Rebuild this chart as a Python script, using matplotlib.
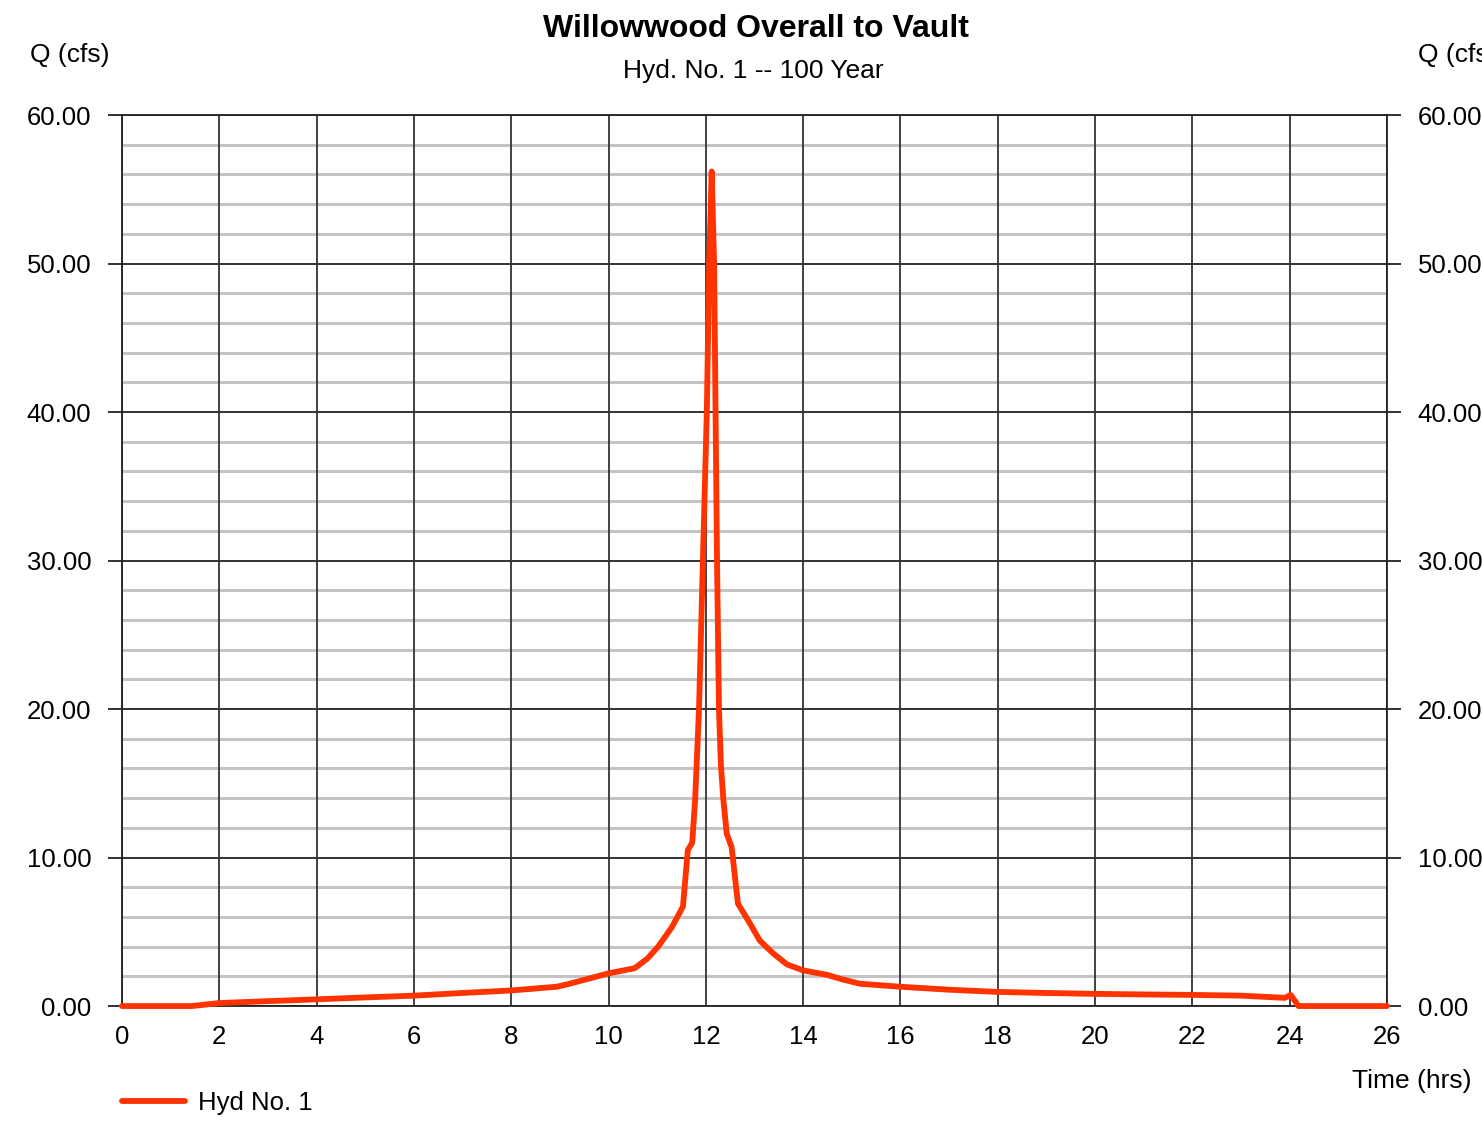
import matplotlib
matplotlib.use("Agg")
import matplotlib.pyplot as plt
import numpy as np

plt.rcParams['font.family'] = ['Liberation Sans', 'DejaVu Sans']

# Hydrograph
time_hrs = [0.0, 1.44, 2.0, 3.0, 4.0, 5.0, 6.0, 7.0, 8.0, 8.94, 9.2, 9.6, 10.0,
            10.54, 10.8, 11.02, 11.3, 11.53, 11.63, 11.72, 11.78, 11.86, 11.94,
            12.02, 12.07, 12.12, 12.17, 12.2, 12.23, 12.27, 12.31, 12.36,
            12.43, 12.53, 12.66, 12.9, 13.11, 13.4, 13.67, 14.0, 14.49, 14.8,
            15.17, 16.0, 17.0, 18.0, 19.0, 20.0, 21.0, 22.0, 23.0, 23.9,
            24.02, 24.18, 26.0]
flow_cfs = [0.0, 0.0, 0.2, 0.33, 0.45, 0.58, 0.7, 0.88, 1.05, 1.3, 1.5, 1.85, 2.2,
            2.55, 3.2, 4.0, 5.3, 6.7, 10.5, 11.0, 13.9, 20.0, 30.0,
            40.0, 50.0, 56.2, 50.0, 40.0, 30.0, 20.0, 16.2, 13.9,
            11.6, 10.7, 6.9, 5.6, 4.4, 3.5, 2.8, 2.4, 2.1, 1.8,
            1.5, 1.3, 1.1, 0.95, 0.88, 0.82, 0.78, 0.75, 0.7, 0.55,
            0.75, 0.0, 0.0]

x_ticks = np.arange(0, 27, 2)
y_major = np.arange(0, 61, 10)
y_minor = np.arange(0, 61, 2)

fig = plt.figure(figsize=(14.82, 11.30), dpi=100)
ax = fig.add_axes([0.0823, 0.1097, 0.8536, 0.7885])

ax.set_xlim(0, 26)
ax.set_ylim(0, 60)

# grid
for y in y_minor:
    if y % 10:
        ax.axhline(y, color='#c4c4c4', lw=2.2, zorder=1)
for y in y_major:
    ax.axhline(y, color='#222222', lw=1.3, zorder=2)
for x in x_ticks:
    ax.axvline(x, color='#333333', lw=1.3, zorder=2)

line, = ax.plot(time_hrs, flow_cfs, color='#ff3300', lw=4.2,
                solid_joinstyle='round', solid_capstyle='round', zorder=5,
                clip_on=False, label='Hyd No. 1')

for s in ax.spines.values():
    s.set_color('#222222')
    s.set_linewidth(1.3)

ax.set_xticks(x_ticks)
ax.set_xticklabels([str(v) for v in x_ticks])
ax.set_yticks(y_major)
ax.set_yticklabels([f"{v:.2f}" for v in y_major])
ax.tick_params(axis='x', length=0, pad=14, labelsize=18.5)
ax.tick_params(axis='y', length=10, width=1.3, color='#222222', pad=12,
               labelsize=18.5, left=True, right=True, labelleft=True,
               labelright=True)

fig.text(0.51, 0.974, 'Willowwood Overall to Vault', ha='center', va='center',
         fontsize=23, fontweight='bold')
fig.text(0.508, 0.937, 'Hyd. No. 1 -- 100 Year', ha='center', va='center',
         fontsize=19)
fig.text(0.020, 0.951, 'Q (cfs)', ha='left', va='center', fontsize=19)
fig.text(0.957, 0.951, 'Q (cfs)', ha='left', va='center', fontsize=19)
fig.text(0.993, 0.043, 'Time (hrs)', ha='right', va='center', fontsize=19)

fig.legend(handles=[line], labels=['Hyd No. 1'], loc='center left',
           bbox_to_anchor=(0.067, 0.024), frameon=False, fontsize=18.5,
           handlelength=2.45, handletextpad=0.5)

fig.savefig('out.png', dpi=100)
